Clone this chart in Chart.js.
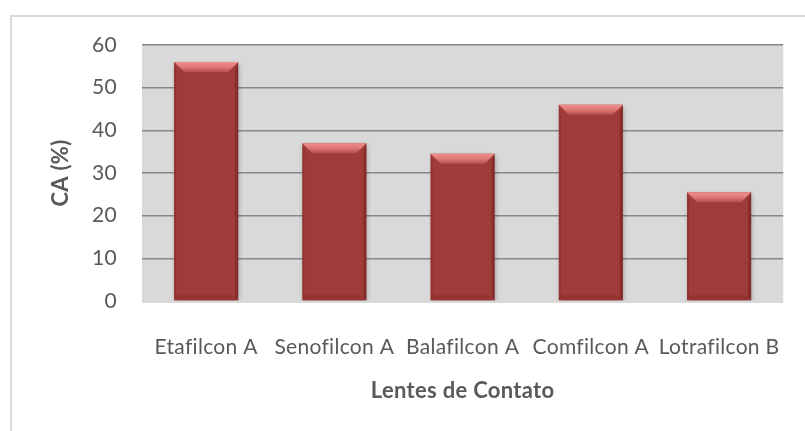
<!DOCTYPE html>
<html>
<head>
<meta charset="utf-8">
<script src="https://cdn.jsdelivr.net/npm/chart.js@4"></script>
<style>
  html, body { margin: 0; padding: 0; background: #fff; overflow: hidden; }
  #frame { position: absolute; left: 10px; top: 15px; width: 900px; height: 500px; border: 2px solid #d9d9d9; box-sizing: border-box; }
  #chart { position: absolute; left: 0; top: 0; }
</style>
</head>
<body>
<div id="frame"></div>
<canvas id="chart" width="805" height="431"></canvas>
<script>
// contact lens data: CA (%) per lens material
const lenses = ['Etafilcon A', 'Senofilcon A', 'Balafilcon A', 'Comfilcon A', 'Lotrafilcon B'];
const caValues = [56, 37, 34.5, 46, 25.5];
const yTicks = [0, 10, 20, 30, 40, 50, 60];

const textColor = '#595959';
const barColor = '#9f3b39';

// grey plot background, a touch deeper than the zero line like the Excel original
// (letterSpacing also switches off the "fi" ligature, which the original doesn't have)
const plotBackground = {
  id: 'plotBackground',
  beforeDraw(chart) {
    const { ctx, chartArea: a } = chart;
    ctx.letterSpacing = '0.3px';
    ctx.save();
    ctx.fillStyle = '#d9d9d9';
    ctx.fillRect(a.left, a.top, a.right - a.left, a.bottom - a.top + 2);
    ctx.restore();
  }
};

// soft drop shadow under bars, then a bevel drawn on top of each bar
const bevelBars = {
  id: 'bevelBars',
  beforeDatasetsDraw(chart) {
    const ctx = chart.ctx;
    ctx.save();
    ctx.shadowColor = 'rgba(0,0,0,0.3)';
    ctx.shadowBlur = 5;
    ctx.shadowOffsetX = 1;
    ctx.shadowOffsetY = 2;
  },
  afterDatasetsDraw(chart) {
    const ctx = chart.ctx;
    ctx.restore();
    chart.getDatasetMeta(0).data.forEach(el => {
      const { x, y, base, width } = el.getProps(['x', 'y', 'base', 'width'], true);
      const l = x - width / 2, r = x + width / 2, t = y, b = base;
      const bv = 10;
      ctx.save();
      // top bevel
      const g = ctx.createLinearGradient(0, t, 0, t + bv);
      g.addColorStop(0, '#ee8f8d');
      g.addColorStop(0.5, '#e07876');
      g.addColorStop(1, '#b54d4b');
      ctx.fillStyle = g;
      ctx.beginPath();
      ctx.moveTo(l, t); ctx.lineTo(r, t); ctx.lineTo(r - bv, t + bv); ctx.lineTo(l + bv, t + bv);
      ctx.closePath(); ctx.fill();
      // right edge
      ctx.fillStyle = 'rgba(90,20,18,0.35)';
      ctx.beginPath();
      ctx.moveTo(r, t); ctx.lineTo(r, b); ctx.lineTo(r - 3, b - 4); ctx.lineTo(r - 3, t + bv - 3);
      ctx.closePath(); ctx.fill();
      // left edge
      ctx.fillStyle = 'rgba(90,20,18,0.2)';
      ctx.beginPath();
      ctx.moveTo(l, t); ctx.lineTo(l, b); ctx.lineTo(l + 2, b - 4); ctx.lineTo(l + 2, t + bv - 3);
      ctx.closePath(); ctx.fill();
      // bottom edge
      ctx.fillStyle = 'rgba(120,30,28,0.25)';
      ctx.beginPath();
      ctx.moveTo(l, b); ctx.lineTo(r, b); ctx.lineTo(r - 3, b - 5); ctx.lineTo(l + 2, b - 5);
      ctx.closePath(); ctx.fill();
      ctx.restore();
    });
  }
};

new Chart(document.getElementById('chart'), {
  type: 'bar',
  data: {
    labels: lenses,
    datasets: [{
      data: caValues,
      backgroundColor: barColor,
      borderWidth: 0,
      categoryPercentage: 1,
      barPercentage: 0.5
    }]
  },
  options: {
    responsive: false,
    animation: false,
    layout: { padding: { top: 45, right: 17, bottom: 0, left: 0 } },
    plugins: { legend: { display: false }, tooltip: { enabled: false } },
    scales: {
      x: {
        grid: { display: false },
        border: { display: false },
        ticks: { color: textColor, font: { family: 'Lato', size: 21 }, padding: 26, maxRotation: 0, autoSkip: false },
        title: {
          display: true, text: 'Lentes de Contato', color: textColor,
          font: { family: 'Lato', size: 22, weight: 'bold' }, padding: { top: 0, bottom: 27 }
        },
        afterFit(scale) { scale.height = 130; }
      },
      y: {
        min: 0, max: 60,
        afterBuildTicks(scale) { scale.ticks = yTicks.map(v => ({ value: v })); },
        grid: {
          drawTicks: false,
          lineWidth: 1.5,
          color: c => (c.tick && c.tick.value === 0) ? 'rgba(0,0,0,0)' : '#878787'
        },
        border: { display: false },
        ticks: { color: textColor, font: { family: 'Lato', size: 21 }, padding: 25 },
        title: {
          display: true, text: 'CA (%)', color: textColor,
          font: { family: 'Lato', size: 22, weight: 'bold' }, padding: { top: 48, bottom: 0 }
        },
        afterFit(scale) { scale.width = 142; }
      }
    }
  },
  plugins: [plotBackground, bevelBars]
});
</script>
</body>
</html>
